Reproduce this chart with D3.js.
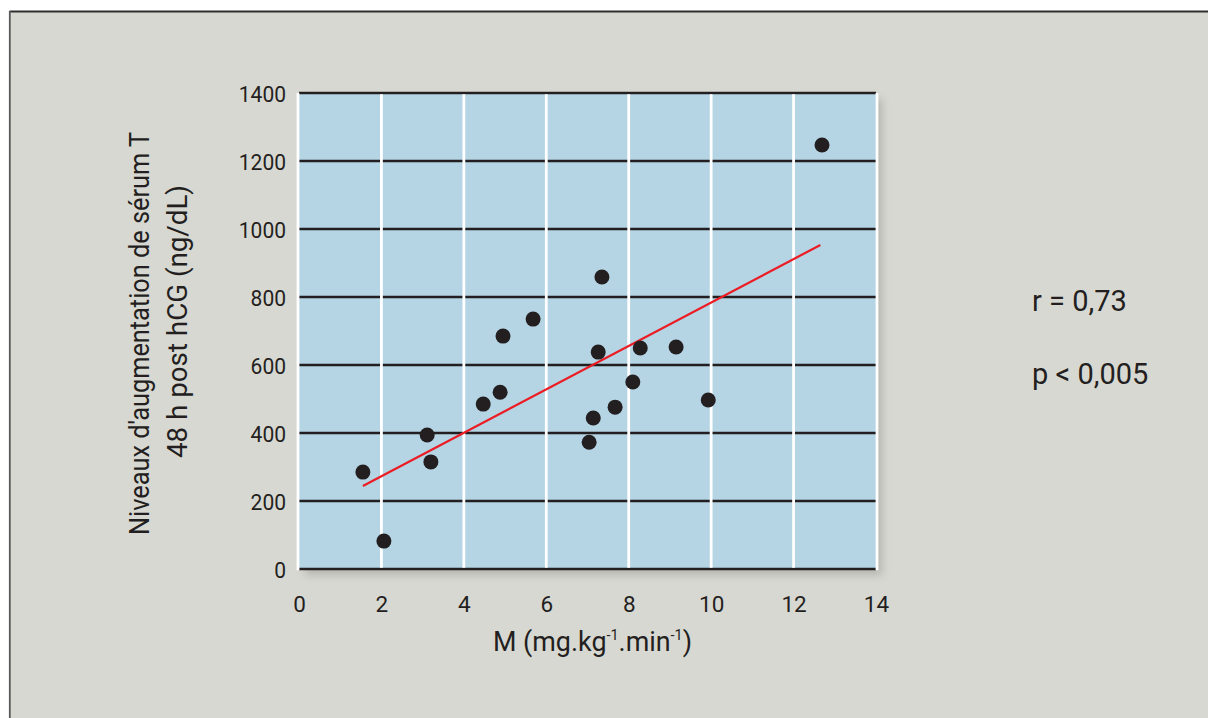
<!DOCTYPE html>
<html>
<head>
<meta charset="utf-8">
<script src="https://cdn.jsdelivr.net/npm/d3@7"></script>
<style>
  html, body { margin: 0; padding: 0; background: #ffffff; }
  svg { display: block; }
  text { font-family: Roboto, "Liberation Sans", sans-serif; fill: #231f20; }
</style>
</head>
<body>
<svg id="chart" width="1208" height="718"></svg>
<script>
// ---- data ----
const mValues = [1.55, 2.06, 3.11, 3.20, 4.47, 4.88, 4.95, 5.68, 7.04, 7.14, 7.26, 7.35, 7.67, 8.10, 8.28, 9.15, 9.93, 12.69];
const tValues = [285, 82, 394, 315, 485, 520, 685, 735, 373, 444, 638, 859, 476, 550, 650, 653, 497, 1247];
const fitX = [1.55, 12.65];
const fitY = [244, 953];
const xTicks = [0, 2, 4, 6, 8, 10, 12, 14];
const yTicks = [0, 200, 400, 600, 800, 1000, 1200, 1400];
const yTitleLines = ["Niveaux d'augmentation de sérum T", "48 h post hCG (ng/dL)"];
const statsLines = ["r = 0,73", "p < 0,005"];

(function () {
const svg = d3.select("#chart");
const W = 1208, H = 718;
const pL = 299, pR = 876, pT = 93, pB = 569;

const x = d3.scaleLinear().domain([0, 14]).range([pL, pR]);
const y = d3.scaleLinear().domain([0, 1400]).range([pB, pT]);

// defs: shadow blur
const defs = svg.append("defs");
const f = defs.append("filter").attr("id", "blur").attr("x", "-10%").attr("y", "-10%").attr("width", "120%").attr("height", "120%");
f.append("feGaussianBlur").attr("stdDeviation", 4);

// outer panel
svg.append("rect").attr("x", 10).attr("y", 11.5).attr("width", W).attr("height", H)
  .attr("fill", "#d8d8d2");
svg.append("line").attr("x1", 9.5).attr("x2", W).attr("y1", 11.5).attr("y2", 11.5)
  .attr("stroke", "#2f2f2f").attr("stroke-width", 2);
svg.append("line").attr("x1", 9.8).attr("x2", 9.8).attr("y1", 11).attr("y2", H)
  .attr("stroke", "#5a5a5a").attr("stroke-width", 1.8);

// plot shadow
svg.append("rect").attr("x", pL + 6).attr("y", pT + 6).attr("width", pR - pL).attr("height", pB - pT)
  .attr("fill", "#9a9a94").attr("opacity", 0.55).attr("filter", "url(#blur)");

// plot background
svg.append("rect").attr("x", pL).attr("y", pT).attr("width", pR - pL).attr("height", pB - pT)
  .attr("fill", "#b5d4e4");

// horizontal black gridlines
svg.append("g").selectAll("line").data(yTicks).join("line")
  .attr("x1", pL).attr("x2", pR)
  .attr("y1", d => y(d)).attr("y2", d => y(d))
  .attr("stroke", "#231f20").attr("stroke-width", 2.4);

// vertical white gridlines
svg.append("g").selectAll("line").data(xTicks).join("line")
  .attr("x1", d => x(d) + (d === 0 ? -1 : (d === 14 ? 1 : 0)))
  .attr("x2", d => x(d) + (d === 0 ? -1 : (d === 14 ? 1 : 0)))
  .attr("y1", d => (d === 0 || d === 14) ? pT : pT + 1.2)
  .attr("y2", d => (d === 0 || d === 14) ? pB + 1.2 : pB - 1.2)
  .attr("stroke", "#ffffff").attr("stroke-width", 2.8);

// axis labels using d3 axes (no domain, no tick lines)
const xAxis = d3.axisBottom(x).tickValues(xTicks).tickSize(0).tickPadding(0).tickFormat(d3.format("d"));
const gx = svg.append("g").attr("transform", `translate(0,${pB})`).call(xAxis);
gx.select(".domain").remove();
gx.selectAll("text").attr("dy", null).attr("y", 43).attr("font-size", 22.5)
  .attr("font-family", "Roboto").attr("fill", "#231f20");

const yAxis = d3.axisLeft(y).tickValues(yTicks).tickSize(0).tickPadding(0).tickFormat(d3.format("d"));
const gy = svg.append("g").attr("transform", `translate(${pL},0)`).call(yAxis);
gy.select(".domain").remove();
gy.selectAll("text").attr("x", -13).attr("dy", "0.36em").attr("font-size", 22.5)
  .attr("font-family", "Roboto").attr("fill", "#231f20")
  .attr("textLength", d => String(d).length * 11.8).attr("lengthAdjust", "spacingAndGlyphs");

// regression line
svg.append("line")
  .attr("x1", x(fitX[0])).attr("y1", y(fitY[0]))
  .attr("x2", x(fitX[1])).attr("y2", y(fitY[1]))
  .attr("stroke", "#ec1c24").attr("stroke-width", 2.2);

// points
svg.append("g").selectAll("circle").data(mValues.map((m, i) => [m, tValues[i]])).join("circle")
  .attr("cx", d => x(d[0])).attr("cy", d => y(d[1])).attr("r", 7.5)
  .attr("fill", "#231f20");

// x-axis title
const xt = svg.append("text").attr("x", 592.5).attr("y", 651)
  .attr("text-anchor", "middle").attr("font-size", 28)
  .attr("transform", "translate(592.5,0) scale(0.96,1) translate(-592.5,0)");
xt.append("tspan").text("M (mg.kg");
xt.append("tspan").text("-1").attr("font-size", 15).attr("dy", -11);
xt.append("tspan").text(".min").attr("dy", 11);
xt.append("tspan").text("-1").attr("font-size", 15).attr("dy", -11);
xt.append("tspan").text(")").attr("dy", 11);

// y-axis title
const yTitlePos = [{bx: 149, cy: 333.5, len: 403}, {bx: 187, cy: 321.5, len: 273}];
yTitleLines.forEach((t, i) => {
  svg.append("text")
    .attr("transform", `translate(${yTitlePos[i].bx},${yTitlePos[i].cy}) rotate(-90)`)
    .attr("text-anchor", "middle").attr("font-size", 28)
    .attr("textLength", yTitlePos[i].len).attr("lengthAdjust", "spacingAndGlyphs")
    .text(t);
});

// stats
statsLines.forEach((t, i) => {
  svg.append("text").attr("x", 1032).attr("y", 311 + i * 72.5)
    .attr("font-size", 29).text(t);
});
})();
</script>
</body>
</html>
